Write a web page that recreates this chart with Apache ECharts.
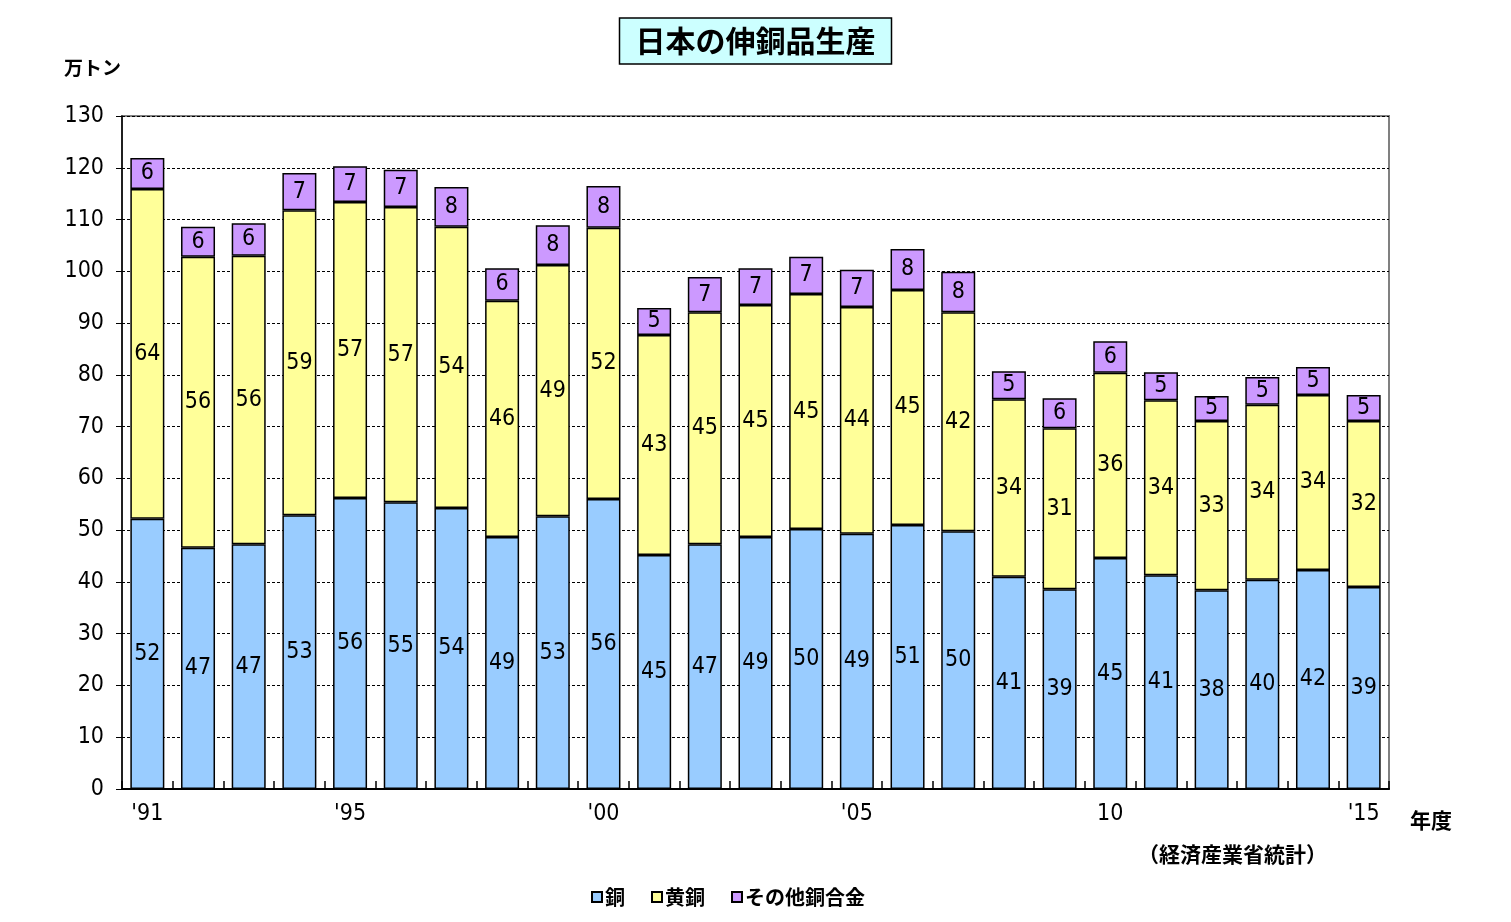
<!DOCTYPE html>
<html><head><meta charset="utf-8">
<script src="https://cdn.jsdelivr.net/npm/echarts@6/dist/echarts.min.js"></script>
<style>html,body{margin:0;padding:0;background:#fff}#c{width:1511px;height:922px}</style>
</head><body><div id="c"></div>
<script>
const years = ['1991','1992','1993','1994','1995','1996','1997','1998','1999','2000','2001','2002','2003','2004','2005','2006','2007','2008','2009','2010','2011','2012','2013','2014','2015'];
const tickLabels = ["'91","","","","'95","","","","","'00","","","","","'05","","","","","10","","","","","'15"];
const copper = [52.2,46.6,47.3,52.9,56.2,55.4,54.3,48.7,52.7,56.0,45.2,47.3,48.7,50.2,49.3,51.0,49.8,41.0,38.6,44.6,41.3,38.4,40.4,42.3,39.0];
const brass = [63.7,56.2,55.7,58.9,57.2,57.0,54.3,45.6,48.5,52.4,42.5,44.8,44.8,45.4,43.8,45.4,42.3,34.3,31.1,35.8,33.8,32.7,33.8,33.8,32.1];
const other = [6.0,5.8,6.3,7.2,6.9,7.2,7.7,6.3,7.7,8.1,5.2,6.8,7.1,7.2,7.2,7.9,7.8,5.4,5.8,6.1,5.4,4.8,5.4,5.4,5.0];
const seriesNames = ['銅','黄銅','その他銅合金'];

const numFont = '"Liberation Sans Narrow","DejaVu Sans Condensed",sans-serif';
const jpFont = '"Noto Sans CJK JP",sans-serif';

const chart = echarts.init(document.getElementById('c'));
function ser(name, data, color){
  return {
    name, type:'bar', stack:'total', data, barWidth:34,
    itemStyle:{color, borderColor:'#000', borderWidth:1.5},
    label:{show:true, position:'inside', color:'#000', fontFamily:numFont, fontSize:23,
      formatter:p=>Math.round(p.value)}
  };
}
chart.setOption({
  animation:false,
  title:{text:'日本の伸銅品生産', left:'center', top:18,
    backgroundColor:'#ccffff', borderColor:'#000', borderWidth:1.5,
    padding:[8,16,8,16],
    textStyle:{fontFamily:jpFont, fontSize:30, fontWeight:'bold', color:'#000'}},
  legend:{bottom:10, left:586, itemWidth:10, itemHeight:10, itemGap:26, icon:'rect',
    textStyle:{fontFamily:jpFont, fontSize:20, fontWeight:'bold', color:'#000', padding:[0,0,0,-2]},
    itemStyle:{borderColor:'#000', borderWidth:2}},
  grid:{left:122, right:122, top:116, bottom:133, show:true, borderColor:'#808080', borderWidth:2, backgroundColor:'#fff'},
  xAxis:{type:'category', data:years,
    axisLine:{lineStyle:{color:'#000', width:2}},
    axisTick:{show:true, inside:true, length:8, lineStyle:{color:'#000', width:1.5}},
    axisLabel:{interval:0, margin:14, color:'#000', fontFamily:numFont, fontSize:23,
      formatter:(v,i)=>tickLabels[i]}},
  yAxis:{type:'value', min:0, max:130, interval:10,
    axisLine:{show:true, lineStyle:{color:'#000', width:1.5}},
    axisTick:{show:true, length:6, lineStyle:{color:'#000'}},
    splitLine:{lineStyle:{color:'#000', type:[3,2], width:1}},
    axisLabel:{margin:18, color:'#000', fontFamily:numFont, fontSize:23}},
  graphic:[
    {type:'text', left:64, top:58, style:{text:'万トン', fontFamily:jpFont, fontSize:19, fontWeight:'bold', fill:'#000'}},
    {type:'text', left:1410, top:810, style:{text:'年度', fontFamily:jpFont, fontSize:21, fontWeight:'bold', fill:'#000'}},
    {type:'text', left:1138, top:844, style:{text:'（経済産業省統計）', fontFamily:jpFont, fontSize:21, fontWeight:'bold', fill:'#000'}}
  ],
  series:[ser(seriesNames[0], copper, '#99ccff'), ser(seriesNames[1], brass, '#ffff99'), ser(seriesNames[2], other, '#cc99ff')]
});
</script></body></html>
